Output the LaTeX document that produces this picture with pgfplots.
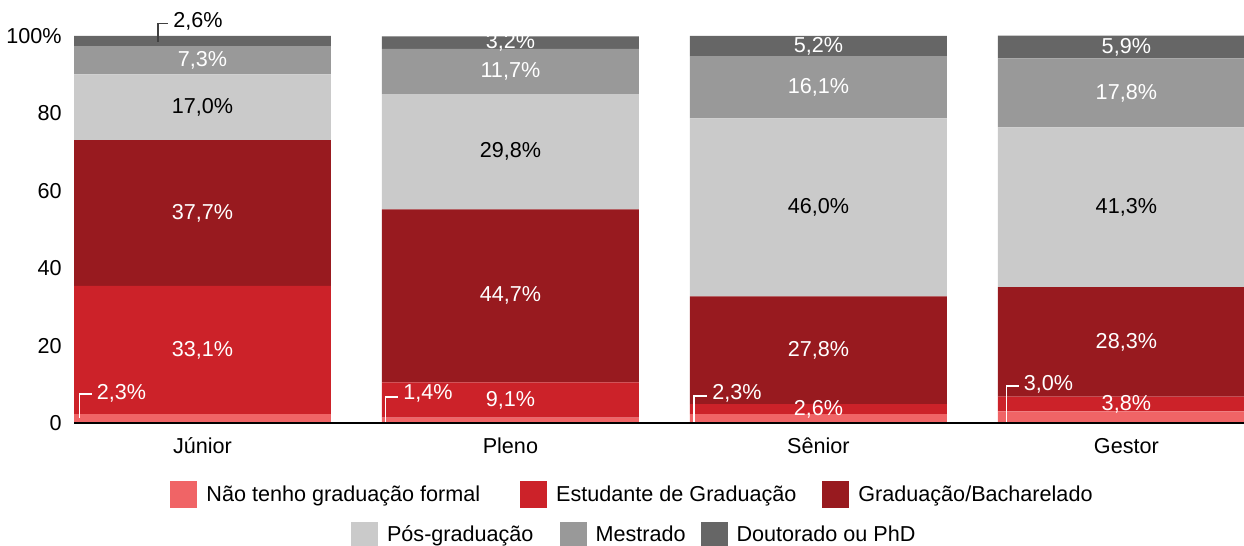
\documentclass[border=0pt]{standalone}
\usepackage{pgfplots}
\usepackage{pgfplotstable}
\pgfplotsset{compat=1.18}
\usepackage{fontspec}
\setmainfont{Liberation Sans}
\definecolor{c1}{HTML}{F06466}
\definecolor{c2}{HTML}{CC2229}
\definecolor{c3}{HTML}{981A1F}
\definecolor{c4}{HTML}{CACACA}
\definecolor{c5}{HTML}{999999}
\definecolor{c6}{HTML}{666666}
\newcommand\lbl{\fontsize{10.8}{13}\selectfont}
\pgfplotstableread{
x  nao  est  grad  pos  mes  dout
0  2.3  33.1 37.7  17.0 7.3  2.6
1  1.4  9.1  44.7  29.8 11.7 3.2
2  2.3  2.6  27.8  46.0 16.1 5.2
3  3.0  3.8  28.3  41.3 17.8 5.9
}\data
\pgfplotsset{
  seglabel/.style={
    nodes near coords={\pgfmathprintnumber[fixed,fixed zerofill,precision=1,use comma]{\rawy}\%},
    visualization depends on={rawy \as \rawy},
    nodes near coords style={anchor=center, text=#1, font=\lbl, inner sep=0pt},
  },
  legsq/.style={legend image code/.code={\fill[##1] (0pt,-6.75pt) rectangle (13.5pt,6.75pt);}},
  commonaxis/.style={scale only axis, width=585pt, height=193.5pt, at={(0,0)}, anchor=south west,
    xmin=-0.417, xmax=3.382, ymin=0, ymax=100, clip=false},
}
\newcommand\leader[6]{% xvert, ybottom, xend, yh, ytext, text
  \draw[white, line width=0.6pt] (axis cs:#1,#2) |- (axis cs:#3,#4);
  \node[anchor=west, inner sep=0pt, text=white, xshift=2.5pt] at (axis cs:#3,#5) {#6};
}
\begin{document}
\begin{tikzpicture}[font=\lbl]
\path[use as bounding box] (-37pt,-61.5pt) rectangle (585pt,211.5pt);
\begin{axis}[commonaxis,
  ybar stacked, bar width=0.834,
  axis on top,
  axis x line*=bottom, axis y line*=left,
  y axis line style={draw=none},
  x axis line style={line width=1.2pt, black},
  major tick length=0pt,
  xtick={0,1,2,3}, xticklabels={Júnior,Pleno,Sênior,Gestor},
  ytick={0,20,40,60,80,100}, yticklabels={0,20,40,60,80,100\%},
  /pgf/number format/assume math mode=true,
  yticklabel style={inner sep=0pt, xshift=-6pt},
  xticklabel style={yshift=-4pt},
  legend style={at={(0.4765,-0.186)}, anchor=center, draw=none, fill=none, legend columns=-1,
    /tikz/every odd column/.style={column sep=4.5pt},
    /tikz/column 2/.style={column sep=20pt},
    /tikz/column 4/.style={column sep=13pt},
    nodes={inner sep=0pt}, font=\lbl},
  legend cell align=left, legsq,
]
\addplot[fill=c1, draw=none] table[x=x,y=nao]{\data};
\addplot[fill=c2, draw=none, seglabel=white] table[x=x,y=est]{\data};
\addplot[fill=c3, draw=none, seglabel=white] table[x=x,y=grad]{\data};
\addplot[fill=c4, draw=none, seglabel=black] table[x=x,y=pos]{\data};
\addplot[fill=c5, draw=none, seglabel=white] table[x=x,y=mes]{\data};
\addplot[fill=c6, draw=none, seglabel=white,
  visualization depends on={rawx \as \xv},
  nodes near coords={\ifdim\xv pt<0.5pt\relax\else\pgfmathprintnumber[fixed,fixed zerofill,precision=1,use comma]{\rawy}\%\fi}]
  table[x=x,y=dout]{\data};
\legend{Não tenho graduação formal, Estudante de Graduação, Graduação/Bacharelado}
\end{axis}
\begin{axis}[commonaxis, hide axis,
  legend style={at={(0.478,-0.2907)}, anchor=center, draw=none, fill=none, legend columns=-1,
    /tikz/every odd column/.style={column sep=4.5pt},
    /tikz/column 2/.style={column sep=13pt},
    /tikz/column 4/.style={column sep=7.5pt},
    nodes={inner sep=0pt}, font=\lbl},
  legend cell align=left, legsq]
\addlegendimage{fill=c4, draw=none}
\addlegendimage{fill=c5, draw=none}
\addlegendimage{fill=c6, draw=none}
\legend{Pós-graduação, Mestrado, Doutorado ou PhD}
\leader{-0.398}{1.3}{-0.36}{7.5}{7.75}{2,3\%}
\leader{0.594}{0.3}{0.635}{6.7}{7.75}{1,4\%}
\leader{1.596}{0.3}{1.638}{7.0}{7.6}{2,3\%}
\leader{2.610}{0.3}{2.650}{9.56}{9.95}{3,0\%}
\draw[black!75, line width=0.6pt] (axis cs:-0.144,98.4) |- (axis cs:-0.112,103.3);
\node[anchor=west, inner sep=0pt, xshift=2.5pt] at (axis cs:-0.112,103.9) {2,6\%};
\end{axis}
\end{tikzpicture}
\end{document}
